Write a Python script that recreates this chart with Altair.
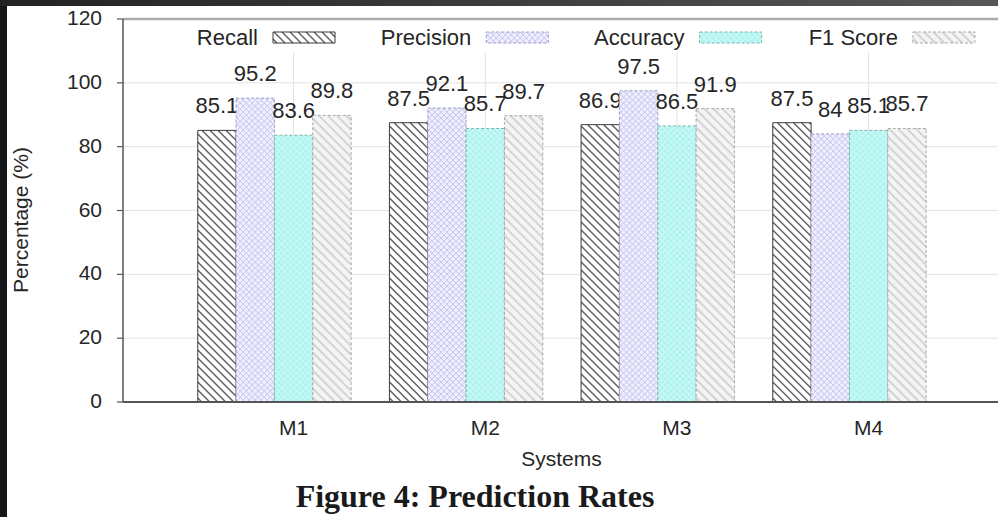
import altair as alt
import pandas as pd

# ---- data -------------------------------------------------------------
systems = ["M1", "M2", "M3", "M4"]
metrics = ["Recall", "Precision", "Accuracy", "F1 Score"]
recall = [85.1, 87.5, 86.9, 87.5]
precision = [95.2, 92.1, 97.5, 84.0]
accuracy = [83.6, 85.7, 86.5, 85.1]
f1_score = [89.8, 89.7, 91.9, 85.7]
y_ticks = [0, 20, 40, 60, 80, 100, 120]
x_title = "Systems"
y_title = "Percentage (%)"
caption = "Figure 4: Prediction Rates"

series_values = [recall, precision, accuracy, f1_score]

# ---- layout -----------------------------------------------------------
W, H = 875, 383
PAD = {"left": 123, "top": 19, "right": 0, "bottom": 115}
X_DOMAIN = [0.11, 4.675]
Y_DOMAIN = [0, 120]
SX = W / (X_DOMAIN[1] - X_DOMAIN[0])   # pixels per system step
SY = H / (Y_DOMAIN[1] - Y_DOMAIN[0])   # pixels per percentage point
BAR = 0.2                              # one bar, in system steps

# key: swatch placement in pixels from the plot's top-left corner
LEG_LEFT, LEG_STEP, SW_W, SW_H, SW_TOP, LEG_GAP = 150, 213.3, 62, 11, 13, 15

FONT = "Liberation Sans"
FS = 22
FS_AXIS = 21
TEXT = "#262626"
AXIS = "#555555"
GRID = "#e2e2e2"

STYLE = {
    "Recall":    dict(bg="#ffffff", line="#5e5e5e", lw=1.4, sp=8, dirs=("back",),
                      edge="#3a3a3a", dash=None),
    "Precision": dict(bg="#efeffd", line="#c4c4ee", lw=1.0, sp=6, dirs=("back", "fwd"),
                      edge="#9d9dc6", dash=[3, 2]),
    "Accuracy":  dict(bg="#b0f4f0", line="#d6fbf8", lw=1.0, sp=6, dirs=("back", "fwd"),
                      edge="#7eb2af", dash=[3, 2]),
    "F1 Score":  dict(bg="#f4f4f4", line="#d4d4d4", lw=2.0, sp=9, dirs=("back",),
                      edge="#a9a9a9", dash=[3, 2]),
}

rows = []
for m_idx, (metric, vals) in enumerate(zip(metrics, series_values)):
    for s_idx, (name, v) in enumerate(zip(systems, vals)):
        rows.append({"system": name, "pos": s_idx + 1, "metric": metric,
                     "m": m_idx, "value": v})
bars = pd.DataFrame(rows)
legend = pd.DataFrame({"metric": metrics, "m": list(range(len(metrics)))})
xticks = pd.DataFrame({"system": systems, "pos": list(range(1, len(systems) + 1))})
yticks = pd.DataFrame({"v": y_ticks})
one = pd.DataFrame({"a": [0]})

xs = alt.Scale(domain=X_DOMAIN, nice=False, zero=False)
ys = alt.Scale(domain=Y_DOMAIN, nice=False, zero=False)


def bar_base(metric):
    return (alt.Chart(bars)
            .transform_filter(alt.datum.metric == metric)
            .transform_calculate(x0=f"datum.pos - 0.5 + {BAR} * datum.m")
            .transform_calculate(x1=f"datum.x0 + {BAR}")
            .transform_calculate(xc=f"datum.x0 + {BAR / 2}")
            .transform_calculate(y0="0")
            .transform_calculate(y1="datum.value"))


def swatch_base(metric):
    return (alt.Chart(legend)
            .transform_filter(alt.datum.metric == metric)
            .transform_calculate(x0=f"{X_DOMAIN[0]} + ({LEG_LEFT} + {LEG_STEP} * datum.m) / {SX}")
            .transform_calculate(x1=f"datum.x0 + {SW_W} / {SX}")
            .transform_calculate(y1=f"{Y_DOMAIN[1]} - {SW_TOP} / {SY}")
            .transform_calculate(y0=f"datum.y1 - {SW_H} / {SY}")
            .transform_calculate(tx=f"datum.x0 - {LEG_GAP} / {SX}")
            .transform_calculate(ty="(datum.y0 + datum.y1) / 2"))


def rect_enc():
    return dict(
        x=alt.X("x0:Q", scale=xs, axis=None), x2="x1:Q",
        y=alt.Y("y0:Q", scale=ys, axis=None), y2="y1:Q",
    )


def hatch(base, st):
    """Diagonal hatch lines clipped to each rectangle (45 degrees on screen)."""
    sp = st["sp"]
    out = []
    for d in st["dirs"]:
        c = (base
             .transform_calculate(w=f"(datum.x1 - datum.x0) * {SX}")
             .transform_calculate(h=f"(datum.y1 - datum.y0) * {SY}")
             .transform_calculate(k=f"sequence(0, ceil((datum.w + datum.h) / {sp}) + 1)")
             .transform_flatten(["k"]))
        if d == "back":
            c = (c.transform_calculate(c0=f"datum.k * {sp} + {sp / 2}")
                  .transform_calculate(ua="max(0, datum.c0 - datum.h)")
                  .transform_calculate(ub="min(datum.w, datum.c0)")
                  .transform_calculate(ta="datum.c0 - datum.ua")
                  .transform_calculate(tb="datum.c0 - datum.ub"))
        else:
            c = (c.transform_calculate(c0=f"datum.k * {sp} + {sp / 2} - datum.w")
                  .transform_calculate(ua="max(0, -datum.c0)")
                  .transform_calculate(ub="min(datum.w, datum.h - datum.c0)")
                  .transform_calculate(ta="datum.ua + datum.c0")
                  .transform_calculate(tb="datum.ub + datum.c0"))
        c = (c.transform_filter("datum.ub - datum.ua > 0.5")
              .transform_calculate(hx=f"datum.x0 + datum.ua / {SX}")
              .transform_calculate(hx2=f"datum.x0 + datum.ub / {SX}")
              .transform_calculate(hy=f"datum.y0 + datum.ta / {SY}")
              .transform_calculate(hy2=f"datum.y0 + datum.tb / {SY}"))
        out.append(c.mark_rule(color=st["line"], strokeWidth=st["lw"], strokeCap="butt").encode(
            x=alt.X("hx:Q", scale=xs, axis=None), x2="hx2:Q",
            y=alt.Y("hy:Q", scale=ys, axis=None), y2="hy2:Q"))
    return out


def outline(base, st):
    kw = dict(fillOpacity=0, stroke=st["edge"], strokeWidth=1)
    if st["dash"]:
        kw["strokeDash"] = st["dash"]
    return base.mark_rect(**kw).encode(**rect_enc())


layers = []

# ---- grid, ticks and tick labels ---------------------------------------
layers.append(alt.Chart(yticks).mark_rule(color=GRID, strokeWidth=1).encode(
    y=alt.Y("v:Q", scale=ys, axis=None)))
layers.append(alt.Chart(xticks).mark_rule(color=GRID, strokeWidth=1).encode(
    x=alt.X("pos:Q", scale=xs, axis=None)))
layers.append(alt.Chart(yticks).mark_rule(color=AXIS, strokeWidth=1.2).encode(
    y=alt.Y("v:Q", scale=ys, axis=None), x=alt.value(-6), x2=alt.value(0)))
layers.append(alt.Chart(yticks).mark_text(
    align="right", baseline="middle", font=FONT, fontSize=FS_AXIS, color=TEXT,
).encode(y=alt.Y("v:Q", scale=ys, axis=None), x=alt.value(-21), text="v:Q"))
layers.append(alt.Chart(xticks).mark_text(
    align="center", baseline="alphabetic", font=FONT, fontSize=FS_AXIS, color=TEXT,
).encode(x=alt.X("pos:Q", scale=xs, axis=None), y=alt.value(H + 33), text="system:N"))
layers.append(alt.Chart(one).mark_text(
    text=x_title, align="center", baseline="alphabetic", font=FONT,
    fontSize=FS_AXIS, color=TEXT,
).encode(x=alt.value(W / 2 + 1), y=alt.value(H + 64)))
layers.append(alt.Chart(one).mark_text(
    text=y_title, align="center", baseline="middle", angle=270, font=FONT,
    fontSize=FS_AXIS, color=TEXT,
).encode(x=alt.value(-101), y=alt.value(201)))

# ---- bars, hatching, outlines and value labels ---------------------------
for metric in metrics:
    st = STYLE[metric]
    base = bar_base(metric)
    layers.append(base.mark_rect(fill=st["bg"], strokeWidth=0).encode(**rect_enc()))
    layers += hatch(base, st)
    layers.append(outline(base, st))
    layers.append(base.mark_text(baseline="bottom", dy=-12, font=FONT, fontSize=FS,
                                 color=TEXT).encode(
        x=alt.X("xc:Q", scale=xs, axis=None),
        y=alt.Y("value:Q", scale=ys, axis=None),
        text=alt.Text("value:Q"),
    ))

# ---- frame lines ---------------------------------------------------------
layers.append(alt.Chart(one).mark_rule(color=AXIS, strokeWidth=2).encode(
    y=alt.YDatum(0, scale=ys, axis=None)))
layers.append(alt.Chart(one).mark_rule(color="#ababab", strokeWidth=2.5).encode(
    y=alt.YDatum(120, scale=ys, axis=None)))
layers.append(alt.Chart(one).mark_rule(color=AXIS, strokeWidth=1.5).encode(
    x=alt.XDatum(X_DOMAIN[0], scale=xs, axis=None)))

# ---- key: opaque box, swatches and labels --------------------------------
layers.append(alt.Chart(one).mark_rect(fill="white").encode(
    x=alt.value(60), x2=alt.value(870), y=alt.value(2), y2=alt.value(33)))
for metric in metrics:
    st = STYLE[metric]
    sb = swatch_base(metric)
    layers.append(sb.mark_rect(fill=st["bg"], strokeWidth=0).encode(**rect_enc()))
    layers += hatch(sb, st)
    layers.append(outline(sb, st))
    layers.append(sb.mark_text(align="right", baseline="middle", font=FONT, fontSize=FS,
                               color=TEXT).encode(
        x=alt.X("tx:Q", scale=xs, axis=None),
        y=alt.Y("ty:Q", scale=ys, axis=None),
        text="metric:N",
    ))

# ---- caption under the plot ----------------------------------------------
layers.append(alt.Chart(one).mark_text(
    text=caption, align="center", baseline="alphabetic",
    font="Liberation Serif", fontSize=32, fontWeight="bold", color="#1a1a1a",
).encode(x=alt.value(352), y=alt.value(488)))

# ---- dark page edges around the figure -----------------------------------
layers.append(alt.Chart(one).mark_rect(fill="#161616").encode(
    x=alt.value(-123), x2=alt.value(-116), y=alt.value(-19), y2=alt.value(498)))
layers.append(alt.Chart(one).mark_rect(
    fill=alt.LinearGradient(gradient="linear", x1=0, x2=1, y1=0, y2=0,
                            stops=[alt.GradientStop(color="#222222", offset=0),
                                   alt.GradientStop(color="#575757", offset=1)])
).encode(x=alt.value(-123), x2=alt.value(875), y=alt.value(-19), y2=alt.value(-13)))

chart = (alt.layer(*layers)
         .properties(
             width=W, height=H,
             autosize=alt.AutoSizeParams(type="none"),
             padding=PAD,
             background="white",
         )
         .configure_view(strokeWidth=0))

chart.save("out.html", embed_options={"renderer": "svg", "actions": False})
